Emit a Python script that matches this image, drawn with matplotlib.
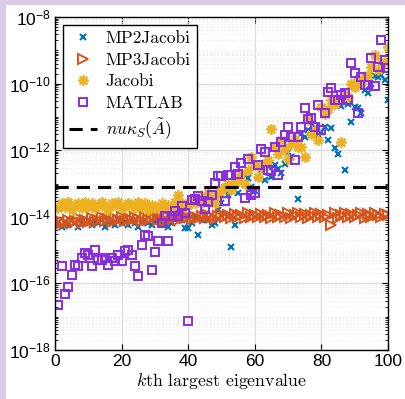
import numpy as np
import matplotlib
matplotlib.use("Agg")
import matplotlib.pyplot as plt
from matplotlib.ticker import FixedLocator, FixedFormatter, NullFormatter
from matplotlib.patches import Rectangle

plt.rcParams['mathtext.fontset'] = 'cm'
plt.rcParams['lines.scale_dashes'] = False

# eigenvalue index
k = np.arange(1, 101)

# log10 of the relative errors
mp2_exp = [-14.2, -14.3, -14.15, -14.25, -14.1, -14.2, -14.3, -14.15, -14.2, -14.1,
           -14.25, -14.15, -14.2, -14.1, -14.3, -14.15, -14.2, -14.25, -14.1, -14.2,
           -14.15, -14.25, -14.1, -14.2, -14.3, -14.15, -14.1, -14.2, -14.25, -14.15,
           -14.1, -14.2, -14.15, -14.3, -14.2, -14.1, -13.9, -14.1, -14.35, -14.35,
           -14.2, -14.0, -14.54, -14.1, -13.95, -14.1, -14.24, -14.19, -13.8, -13.6,
           -13.2, -13.35, -14.91, -14.24, -13.3, -12.9, -13.0, -12.84, -13.1, -13.24,
           -12.8, -12.6, -12.9, -12.5, -12.8, -12.44, -12.55, -12.69, -12.4, -12.04,
           -12.2, -11.79, -13.47, -11.5, -11.59, -11.4, -11.55, -11.3, -11.5, -11.44,
           -11.3, -11.69, -11.34, -11.94, -12.11, -10.67, -12.59, -10.6, -11.14, -10.69,
           -10.74, -10.87, -10.2, -10.29, -10.0, -9.77, -9.79, -9.74, -9.9, -10.49]

mp3_exp = [-14.25, -14.15, -14.2, -14.1, -14.18, -14.12, -14.05, -14.2, -14.1, -14.15,
           -14.05, -14.15, -14.1, -14.02, -14.12, -14.08, -14.15, -14.05, -14.1, -14.0,
           -14.12, -14.05, -14.1, -14.0, -14.08, -14.12, -14.02, -14.1, -14.05, -14.0,
           -14.1, -14.05, -14.12, -14.0, -14.08, -14.02, -14.1, -13.98, -14.05, -14.02,
           -14.08, -14.0, -14.05, -13.98, -14.05, -13.95, -14.02, -14.08, -13.98, -13.92,
           -14.0, -13.95, -14.05, -13.92, -14.0, -13.95, -14.05, -13.9, -14.0, -13.95,
           -14.02, -13.92, -14.0, -13.95, -14.05, -13.9, -14.0, -13.95, -14.02, -13.9,
           -14.05, -13.95, -13.9, -14.0, -13.92, -14.05, -13.95, -13.88, -14.0, -13.92,
           -14.0, -13.95, -14.25, -13.9, -14.05, -13.95, -13.88, -14.0, -13.92, -14.02,
           -13.95, -13.9, -14.05, -13.92, -14.0, -13.88, -13.95, -14.02, -13.92, -13.95]

jac_exp = [-13.75, -13.6, -13.7, -13.55, -13.8, -13.65, -13.6, -13.75, -13.55, -13.7,
           -13.6, -13.75, -13.65, -13.55, -13.7, -13.8, -13.6, -13.65, -13.55, -13.75,
           -13.7, -13.6, -13.65, -13.75, -13.55, -13.7, -13.6, -13.8, -13.65, -13.7,
           -13.75, -13.6, -13.7, -13.65, -13.75, -13.55, -13.35, -13.6, -13.7, -13.65,
           -13.5, -13.6, -13.45, -13.55, -13.4, -13.3, -13.5, -13.6, -13.35, -13.2,
           -13.1, -13.0, -13.2, -12.95, -12.85, -12.7, -13.0, -12.6, -12.2, -12.45,
           -12.8, -12.5, -12.4, -12.3, -11.35, -11.9, -12.1, -11.7, -11.95, -12.25,
           -11.8, -11.65, -11.9, -11.9, -12.2, -11.1, -11.5, -11.4, -11.7, -10.7,
           -10.9, -10.75, -10.5, -10.6, -10.45, -11.75, -10.3, -10.4, -10.0, -10.1,
           -9.85, -10.0, -9.8, -9.75, -9.5, -9.15, -9.6, -9.35, -9.35, -8.9]

mat_exp = [-16.64, -15.49, -16.32, -16.11, -15.74, -15.44, -15.49, -15.24, -15.09, -15.14,
           -15.49, -15.01, -15.29, -15.29, -15.24, -15.44, -15.24, -15.34, -15.14, -15.34,
           -15.04, -15.01, -15.14, -15.49, -15.79, -14.84, -14.54, -14.59, -15.59, -15.07,
           -14.74, -14.19, -13.99, -14.74, -13.99, -13.84, -13.99, -13.69, -13.89, -17.14,
           -13.49, -13.47, -13.39, -13.54, -13.77, -13.57, -13.34, -12.97, -12.77, -12.77,
           -13.54, -12.74, -12.74, -12.49, -12.71, -12.39, -13.44, -12.27, -13.34, -13.29,
           -12.44, -11.97, -12.04, -12.59, -12.61, -11.89, -12.74, -11.74, -11.54, -11.29,
           -11.59, -12.29, -11.59, -11.29, -10.74, -11.07, -11.04, -11.29, -10.64, -11.39,
           -10.89, -10.24, -10.14, -10.49, -10.49, -10.34, -10.27, -10.49, -9.39, -9.67,
           -10.89, -9.79, -10.04, -10.04, -9.24, -10.07, -9.49, -8.69, -9.29, -9.54]

bound = 8.1e-14

mp2 = 10.0 ** np.array(mp2_exp)
mp3 = 10.0 ** np.array(mp3_exp)
jac = 10.0 ** np.array(jac_exp)
mat = 10.0 ** np.array(mat_exp)

fig = plt.figure(figsize=(4.06, 3.99), dpi=100, facecolor='white')
# lavender frame strips (left and top)
lav = '#dccbe5'
fig.patches.append(Rectangle((0, 0), 6 / 406, 1, transform=fig.transFigure,
                             facecolor=lav, edgecolor='none', zorder=-1))
fig.patches.append(Rectangle((0, 1 - 5 / 399), 1, 5 / 399, transform=fig.transFigure,
                             facecolor=lav, edgecolor='none', zorder=-1))
ax = fig.add_axes([55 / 406, 1 - 350 / 399, 333 / 406, 333 / 399])

ax.semilogy(k, mp2, 'x', color='#0072BD', ms=5, mew=1.5, label='MP2Jacobi')
ax.semilogy(k, mp3, '>', color='#D95319', ms=7.5, mew=1.4, mfc='none', label='MP3Jacobi')
ax.semilogy(k, jac, marker=(8, 2, 0), ls='none', color='#EDB120', ms=7.5, mew=1.3, label='Jacobi')
ax.semilogy(k, mat, 's', color='#8A2BE2', ms=5.8, mew=1.4, mfc='none', label='MATLAB')
ax.axhline(bound, color='black', lw=2.2, dashes=(9.5, 5.8), label=r'$nu\kappa_S(\tilde{A})$')

ax.set_xlim(0, 100)
ax.set_ylim(1e-18, 1e-8)

# ticks like MATLAB: inside, on all sides
ax.set_xticks([0, 20, 40, 60, 80, 100])
ax.set_xticklabels(['0', '20', '40', '60', '80', '100'], fontfamily='Liberation Sans', fontsize=12.5)
ymaj = [1e-18, 1e-16, 1e-14, 1e-12, 1e-10, 1e-8]
ax.yaxis.set_major_locator(FixedLocator(ymaj))
ax.yaxis.set_major_formatter(FixedFormatter([r'$\mathregular{10^{-%d}}$' % e for e in [18, 16, 14, 12, 10, 8]]))
yminor = [m * 10.0 ** e for e in range(-18, -8) for m in range(1, 10)]
yminor = [v for v in yminor if v not in ymaj]
ax.yaxis.set_minor_locator(FixedLocator(yminor))
ax.yaxis.set_minor_formatter(NullFormatter())
for lab in ax.get_yticklabels():
    lab.set_fontfamily('Liberation Sans')
    lab.set_fontsize(12.5)
ax.tick_params(which='both', direction='in', top=True, right=True, pad=3)
ax.tick_params(which='major', length=4, width=0.8)
ax.tick_params(which='minor', length=2, width=0.6)

ax.grid(True, which='major', color='#dddddd', lw=1.0)
ax.grid(True, which='minor', axis='y', color='#e6e6e6', lw=0.6, ls=':')
ax.set_axisbelow(True)
for s in ax.spines.values():
    s.set_linewidth(1.0)

ax.set_xlabel(r'$k$th largest eigenvalue', fontfamily='cmr10', fontsize=12.8, labelpad=1)

leg = ax.legend(loc='upper left', bbox_to_anchor=(0.024, 0.976), borderaxespad=0,
                prop={'family': 'cmr10', 'size': 12.5}, fancybox=False, framealpha=1,
                edgecolor='black', handlelength=1.6, handletextpad=0.5,
                borderpad=0.35, labelspacing=0.35)
leg.get_frame().set_linewidth(1.0)

fig.savefig('out.png', dpi=100, facecolor=fig.get_facecolor())
